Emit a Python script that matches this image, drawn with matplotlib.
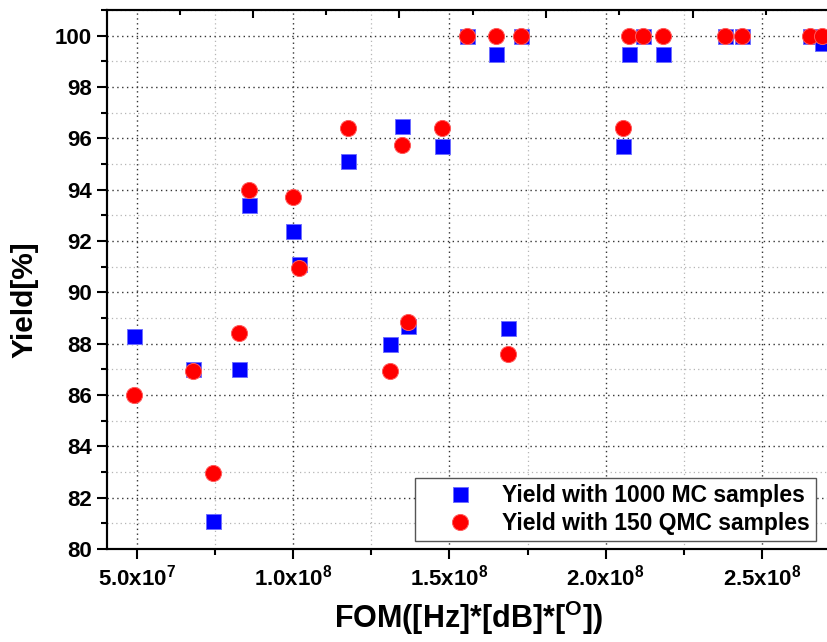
import matplotlib
matplotlib.use('Agg')
from matplotlib import pyplot as plt
from matplotlib.ticker import MultipleLocator, FuncFormatter

# FOM values (Hz*dB*deg) and yields
fom = [0.490e8, 0.679e8, 0.743e8, 0.827e8, 0.859e8, 0.999e8, 1.019e8, 1.175e8,
       1.310e8, 1.348e8, 1.367e8, 1.476e8, 1.556e8, 1.649e8, 1.688e8, 1.729e8,
       2.057e8, 2.075e8, 2.120e8, 2.184e8, 2.382e8, 2.437e8, 2.654e8, 2.693e8]
yield_mc = [88.3, 87.0, 81.1, 87.0, 93.4, 92.4, 91.1, 95.1,
            88.0, 96.5, 88.7, 95.7, 100.0, 99.3, 88.6, 100.0,
            95.7, 99.3, 100.0, 99.3, 100.0, 100.0, 100.0, 99.7]
yield_qmc = [86.0, 86.95, 82.95, 88.4, 94.0, 93.7, 90.95, 96.4,
             86.95, 95.75, 88.85, 96.4, 100.0, 100.0, 87.6, 100.0,
             96.4, 100.0, 100.0, 100.0, 100.0, 100.0, 100.0, 100.0]
labels = ['Yield with 1000 MC samples', 'Yield with 150 QMC samples']

plt.rcParams['font.family'] = ['Liberation Sans', 'DejaVu Sans']
plt.rcParams['font.weight'] = 'bold'
plt.rcParams['mathtext.fontset'] = 'custom'
plt.rcParams['mathtext.rm'] = 'Liberation Sans:bold'
plt.rcParams['mathtext.it'] = 'Liberation Sans:bold'
plt.rcParams['mathtext.bf'] = 'Liberation Sans:bold'

fig = plt.figure(figsize=(8.28, 6.42), dpi=100)
ax = fig.add_axes([107/828, 1 - 549/642, 723/828, 539/642])

ax.plot(fom, yield_mc, ls='none', marker='s', ms=10.8, color='#0000ff',
        mec='#6f6fff', mew=0.7, label=labels[0], zorder=3)
ax.plot(fom, yield_qmc, ls='none', marker='o', ms=11.6, color='#ff0000',
        mec='#ff5a5a', mew=0.7, label=labels[1], zorder=4)

ax.set_xlim(4.04e7, 2.718e8)
ax.set_ylim(80, 101.0)

ax.xaxis.set_major_locator(MultipleLocator(5e7))
ax.xaxis.set_minor_locator(MultipleLocator(2.5e7))
ax.yaxis.set_major_locator(MultipleLocator(2))
ax.yaxis.set_minor_locator(MultipleLocator(1))


def sci(v, pos):
    e = len(str(int(v))) - 1
    return r'$%.1fx10^{%d}$' % (v / 10**e, e)


ax.xaxis.set_major_formatter(FuncFormatter(sci))

ax.grid(which='major', ls=(0, (1, 2.5)), color='#333333', lw=1.0)
ax.grid(which='minor', ls=(0, (1, 2.5)), color='#b5b5b5', lw=0.9)
ax.set_axisbelow(True)

ax.tick_params(axis='both', which='major', direction='out', length=7, width=1.5,
               labelsize=16, pad=4, top=False, right=False)
ax.tick_params(axis='both', which='minor', direction='out', length=4, width=1.5,
               top=False, right=False)
for s in ax.spines.values():
    s.set_linewidth(1.5)

# top axis has its own tick set (inward, no labels)
top = ax.twiny()
top.set_xlim(ax.get_xlim())
top.xaxis.set_major_locator(MultipleLocator(4.69e7, offset=8.71e7))
top.xaxis.set_minor_locator(MultipleLocator(2.345e7, offset=8.71e7))
top.tick_params(which='major', direction='in', length=6, width=1.5, labeltop=False)
top.tick_params(which='minor', direction='in', length=3.5, width=1.5)
for s in top.spines.values():
    s.set_linewidth(1.5)

ax.set_xlabel(r'FOM([Hz]*[dB]*[$^{\mathrm{O}}$])', fontsize=22, fontweight='bold', labelpad=6)
ax.set_ylabel('Yield[%]', fontsize=21.5, fontweight='bold')
ax.yaxis.set_label_coords(-0.0955, 0.463)

leg = ax.legend(loc='lower left', bbox_to_anchor=(415/828, 1 - 541/642),
                bbox_transform=fig.transFigure, fontsize=16.5, frameon=True,
                fancybox=False, framealpha=1, edgecolor='#555555',
                borderpad=0.25, handlelength=3.4, handletextpad=0.15,
                labelspacing=0.25, borderaxespad=0)
leg.get_frame().set_linewidth(1.0)

plt.savefig('out.png', dpi=100)
